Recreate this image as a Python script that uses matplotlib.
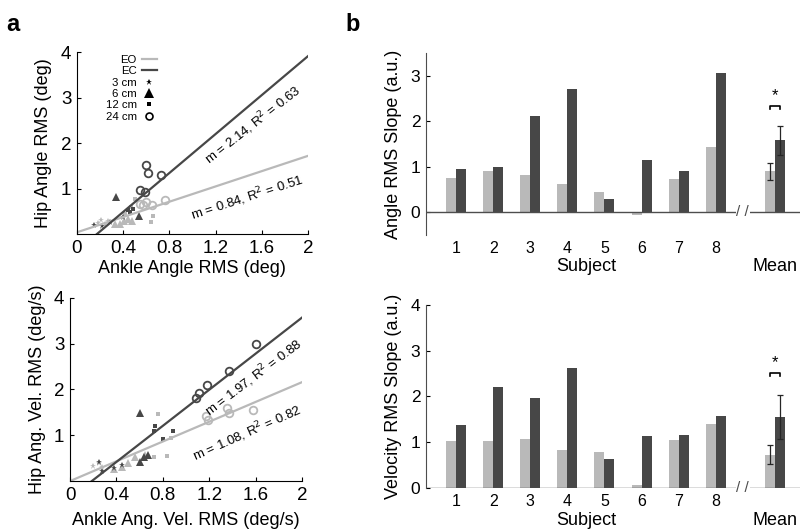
import numpy as np
import matplotlib
matplotlib.use('Agg')
import matplotlib.pyplot as plt
from matplotlib.lines import Line2D

plt.rcParams['font.family'] = ['Liberation Sans', 'DejaVu Sans']

LIGHT = '#b9b9b9'
DARK = '#474747'

# ---- panel a: scatter data (EO = eyes open, EC = eyes closed) ----
ang_ec_3_x = [0.15, 0.22, 0.29, 0.40]
ang_ec_3_y = [0.20, 0.18, 0.27, 0.38]
ang_ec_6_x = [0.34, 0.54]
ang_ec_6_y = [0.82, 0.40]
ang_ec_12_x = [0.44, 0.46, 0.49]
ang_ec_12_y = [0.53, 0.49, 0.55]
ang_ec_24_x = [0.55, 0.59, 0.60, 0.62, 0.73]
ang_ec_24_y = [0.96, 0.93, 1.52, 1.34, 1.30]
ang_eo_3_x = [0.18, 0.21, 0.24, 0.27]
ang_eo_3_y = [0.25, 0.31, 0.22, 0.28]
ang_eo_6_x = [0.33, 0.37, 0.41, 0.44, 0.48]
ang_eo_6_y = [0.22, 0.23, 0.29, 0.34, 0.30]
ang_eo_12_x = [0.42, 0.47, 0.64, 0.66, 0.50]
ang_eo_12_y = [0.45, 0.60, 0.27, 0.40, 0.78]
ang_eo_24_x = [0.55, 0.57, 0.60, 0.65, 0.76]
ang_eo_24_y = [0.67, 0.64, 0.71, 0.65, 0.75]

vel_ec_3_x = [0.25, 0.28, 0.38, 0.45]
vel_ec_3_y = [0.42, 0.23, 0.28, 0.35]
vel_ec_6_x = [0.60, 0.60, 0.64, 0.67]
vel_ec_6_y = [1.49, 0.41, 0.52, 0.57]
vel_ec_12_x = [0.72, 0.73, 0.80, 0.89]
vel_ec_12_y = [1.10, 1.21, 0.92, 1.10]
vel_ec_24_x = [1.09, 1.11, 1.18, 1.37, 1.60]
vel_ec_24_y = [1.82, 1.93, 2.09, 2.40, 3.00]
vel_eo_3_x = [0.20, 0.25, 0.28]
vel_eo_3_y = [0.33, 0.39, 0.30]
vel_eo_6_x = [0.38, 0.45, 0.50, 0.56, 0.65]
vel_eo_6_y = [0.27, 0.30, 0.39, 0.52, 0.57]
vel_eo_12_x = [0.72, 0.76, 0.84, 0.87]
vel_eo_12_y = [0.53, 1.46, 0.55, 0.93]
vel_eo_24_x = [1.17, 1.19, 1.35, 1.37, 1.58]
vel_eo_24_y = [1.43, 1.33, 1.59, 1.49, 1.55]

# regression lines: slope, intercept, R^2
ang_fit_eo = (0.84, 0.04, 0.51)
ang_fit_ec = (2.14, -0.37, 0.63)
vel_fit_eo = (1.08, 0.00, 0.82)
vel_fit_ec = (1.97, -0.37, 0.88)

# ---- panel b: per-subject slopes ----
subjects = [1, 2, 3, 4, 5, 6, 7, 8]
ang_slope_eo = [0.76, 0.90, 0.82, 0.63, 0.45, -0.06, 0.72, 1.43]
ang_slope_ec = [0.96, 1.00, 2.12, 2.71, 0.30, 1.15, 0.90, 3.05]
vel_slope_eo = [1.02, 1.03, 1.07, 0.83, 0.79, 0.06, 1.05, 1.39]
vel_slope_ec = [1.37, 2.20, 1.96, 2.61, 0.64, 1.13, 1.15, 1.57]
ang_mean = [0.90, 1.58]
ang_err = [0.19, 0.32]
vel_mean = [0.73, 1.55]
vel_err = [0.21, 0.48]

fig = plt.figure(figsize=(8, 5.31), dpi=100)


def scatter_panel(ax, groups_ec, groups_eo, fit_eo, fit_ec, txt_eo, txt_ec):
    styles = [dict(marker='*', ms=4.5, mew=0),
              dict(marker='^', ms=6, mew=0),
              dict(marker='s', ms=2.8, mew=0),
              dict(marker='o', ms=5.5, mfc='none', mew=1.3)]
    for groups, c in ((groups_eo, LIGHT), (groups_ec, DARK)):
        for (gx, gy), st in zip(groups, styles):
            kw = dict(st)
            if kw.get('mfc') != 'none':
                kw['mfc'] = c
            ax.plot(gx, gy, ls='none', color=c, mec=c, **kw)
    xs = np.array([0.0, 2.0])
    ax.plot(xs, fit_eo[0] * xs + fit_eo[1], color=LIGHT, lw=1.6)
    ax.plot(xs, fit_ec[0] * xs + fit_ec[1], color=DARK, lw=1.6)
    for fit, (tx, ty, rot) in ((fit_eo, txt_eo), (fit_ec, txt_ec)):
        ax.text(tx, ty, 'm = %.2f, R$^2$ = %.2f' % (fit[0], fit[2]),
                rotation=rot, rotation_mode='anchor', ha='center', va='center',
                fontsize=9.5)
    ax.set_xlim(0, 2)
    ax.set_ylim(0, 4)
    ax.set_xticks([0, 0.4, 0.8, 1.2, 1.6, 2])
    ax.set_xticklabels(['0', '0.4', '0.8', '1.2', '1.6', '2'])
    ax.set_yticks([1, 2, 3, 4])
    for s in ('top', 'right'):
        ax.spines[s].set_visible(False)
    ax.tick_params(direction='in', length=3, labelsize=13.5, pad=4)


ax1 = fig.add_axes([0.096, 0.559, 0.289, 0.343])
scatter_panel(ax1,
              [(ang_ec_3_x, ang_ec_3_y), (ang_ec_6_x, ang_ec_6_y),
               (ang_ec_12_x, ang_ec_12_y), (ang_ec_24_x, ang_ec_24_y)],
              [(ang_eo_3_x, ang_eo_3_y), (ang_eo_6_x, ang_eo_6_y),
               (ang_eo_12_x, ang_eo_12_y), (ang_eo_24_x, ang_eo_24_y)],
              ang_fit_eo, ang_fit_ec,
              (1.47, 0.81, 18), (1.52, 2.40, 38))
ax1.set_xlabel('Ankle Angle RMS (deg)', fontsize=13, labelpad=2)
ax1.set_ylabel('Hip Angle RMS (deg)', fontsize=13, labelpad=6)

handles = [Line2D([], [], color=LIGHT, lw=1.6),
           Line2D([], [], color=DARK, lw=1.6),
           Line2D([], [], ls='none', marker='*', ms=4.5, color='k', mew=0),
           Line2D([], [], ls='none', marker='^', ms=6.5, color='k', mew=0),
           Line2D([], [], ls='none', marker='s', ms=2.8, color='k', mew=0),
           Line2D([], [], ls='none', marker='o', ms=5, mfc='none', color='k', mew=1.2)]
ax1.legend(handles, ['EO', 'EC', '3 cm', '6 cm', '12 cm', '24 cm'],
           markerfirst=False, frameon=False, loc='upper left',
           bbox_to_anchor=(0.10, 1.015), fontsize=8.2, handlelength=1.3,
           handletextpad=0.45, labelspacing=0.12, borderpad=0)

ax2 = fig.add_axes([0.0875, 0.094, 0.29, 0.345])
scatter_panel(ax2,
              [(vel_ec_3_x, vel_ec_3_y), (vel_ec_6_x, vel_ec_6_y),
               (vel_ec_12_x, vel_ec_12_y), (vel_ec_24_x, vel_ec_24_y)],
              [(vel_eo_3_x, vel_eo_3_y), (vel_eo_6_x, vel_eo_6_y),
               (vel_eo_12_x, vel_eo_12_y), (vel_eo_24_x, vel_eo_24_y)],
              vel_fit_eo, vel_fit_ec,
              (1.53, 1.05, 24), (1.58, 2.27, 37))
ax2.set_xlabel('Ankle Ang. Vel. RMS (deg/s)', fontsize=13, labelpad=6)
ax2.set_ylabel('Hip Ang. Vel. RMS (deg/s)', fontsize=13, labelpad=6)


def bar_panel(ax, eo, ec, mean, err, ylim, yticks, star_y, ylabel):
    w = 0.27
    x = np.array(subjects, dtype=float)
    xm = 9.6
    ax.bar(x - w / 2, eo, w, color=LIGHT, lw=0)
    ax.bar(x + w / 2, ec, w, color=DARK, lw=0)
    ax.bar([xm - w / 2], [mean[0]], w, color=LIGHT, lw=0)
    ax.bar([xm + w / 2], [mean[1]], w, color=DARK, lw=0)
    ax.errorbar([xm - w / 2, xm + w / 2], mean, yerr=err, fmt='none',
                ecolor='0.15', elinewidth=0.9, capsize=2.2, capthick=0.9)
    ax.axhline(0, color='0.3', lw=1.0)
    # significance bracket and star
    bx = [xm - w / 2, xm - w / 2, xm + w / 2, xm + w / 2]
    by = [star_y - 0.08, star_y, star_y, star_y - 0.08]
    ax.plot(bx, by, color='k', lw=1.2)
    ax.text(xm, star_y + 0.06, '*', ha='center', va='bottom', fontsize=12)
    # axis break marks
    ax.text(8.73, 0, '/ /', ha='center', va='center', fontsize=11, color='0.3',
            bbox=dict(fc='white', ec='none', pad=0.3))
    ax.set_xlim(0.19, 10.27)
    ax.set_ylim(*ylim)
    ax.set_yticks(yticks)
    ax.set_xticks(subjects)
    for s in ('top', 'right', 'bottom'):
        ax.spines[s].set_visible(False)
    ax.spines['left'].set_color('0.3')
    ax.tick_params(axis='y', direction='in', length=3, labelsize=12.5, pad=4)
    ax.tick_params(axis='x', length=0, labelsize=11.5, pad=4)
    ax.set_ylabel(ylabel, fontsize=13, labelpad=6)
    tr = ax.get_xaxis_transform()
    ax.text(4.5, -0.175, 'Subject', transform=tr, ha='center', va='center', fontsize=13)
    ax.text(xm, -0.175, 'Mean', transform=tr, ha='center', va='center', fontsize=13)


ax3 = fig.add_axes([0.5325, 0.5574, 0.4675, 0.343])
bar_panel(ax3, ang_slope_eo, ang_slope_ec, ang_mean, ang_err,
          (-0.5, 3.5), [0, 1, 2, 3], 2.34, 'Angle RMS Slope (a.u.)')

ax4 = fig.add_axes([0.5325, 0.081, 0.4675, 0.345])
bar_panel(ax4, vel_slope_eo, vel_slope_ec, vel_mean, vel_err,
          (0, 4), [0, 1, 2, 3, 4], 2.52, 'Velocity RMS Slope (a.u.)')

fig.text(0.008, 0.975, 'a', fontsize=17, fontweight='bold', va='top')
fig.text(0.432, 0.975, 'b', fontsize=17, fontweight='bold', va='top')

fig.savefig('out.png', dpi=100)
